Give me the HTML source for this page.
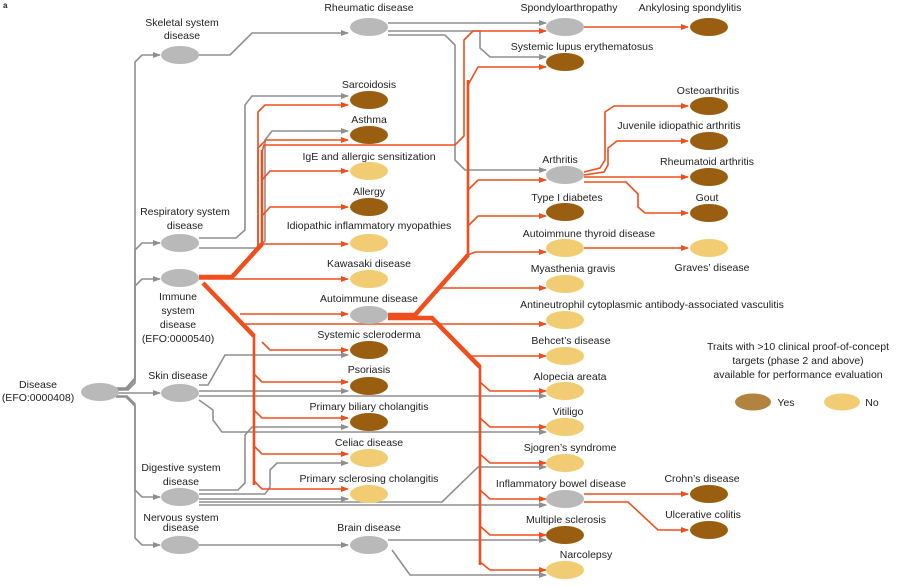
<!DOCTYPE html>
<html><head><meta charset="utf-8"><style>
html,body{margin:0;padding:0;background:#fff;}
svg{display:block;}
text{font-family:"Liberation Sans",sans-serif;font-size:10.5px;fill:#222;text-anchor:middle;}
.g{fill:none;stroke:#8f8f8f;stroke-width:1.6;}
.o{fill:none;stroke:#f04e1c;stroke-width:1.6;}
.ot{fill:none;stroke:#f04e1c;stroke-width:4.5;}
.om{fill:none;stroke:#f04e1c;stroke-width:2.6;}
.n{fill:#b9b9b9;}.b{fill:#9a5e10;}.y{fill:#f2cc72;}
</style></head><body>
<svg width="908" height="586" viewBox="0 0 908 586" xmlns="http://www.w3.org/2000/svg">
<defs>
<marker id="ag" markerWidth="8" markerHeight="6" refX="7" refY="3" orient="auto" markerUnits="userSpaceOnUse"><path d="M0,0 L8,3 L0,6 z" fill="#8f8f8f"/></marker>
<marker id="ao" markerWidth="8" markerHeight="6" refX="7" refY="3" orient="auto" markerUnits="userSpaceOnUse"><path d="M0,0 L8,3 L0,6 z" fill="#f04e1c"/></marker>
</defs>
<text x="3" y="8" style="font-size:8px;font-weight:bold;text-anchor:start">a</text>

<!-- grey edges -->
<g class="g" marker-end="url(#ag)">
<path d="M116,388 H126 L135,378 V62 L142,55 H160"/>
<path d="M116,389 H127 L135,380 V250 L142,243 H160"/>
<path d="M116,390 H128 L135,383 V286 L142,279 H160"/>
<path d="M118,393 H160"/>
<path d="M116,396 H127 L135,404 V490 L142,497 H160"/>
<path d="M116,397 H126 L135,406 V538 L142,545 H160"/>
<path d="M199,55 H230 L252,33 H348"/>
<path d="M388,23 H546"/>
<path d="M388,31 H480 V48 L490,57 H546"/>
<path d="M388,35 H445 L455,45 V160 L465,170 H546"/>
<path d="M199,238 H236 L245,230 V105 L252,96 H348"/>
<path d="M199,248 H258 L265,241 V140 L272,131 H348"/>
<path d="M199,385 H208 L225,355 H348"/>
<path d="M199,391 H348"/>
<path d="M199,396 H546"/>
<path d="M199,400 L213,410 V420 L222,432 H546"/>
<path d="M199,490 H238 L245,483 V435 L252,427 H348"/>
<path d="M199,494 H265 L270,487 V470 L277,463 H348"/>
<path d="M199,499 H348"/>
<path d="M199,502 H442 L478,467 H546"/>
<path d="M199,505 H546"/>
<path d="M199,545 H348"/>
<path d="M388,540 H546"/>
<path d="M392,550 L410,575 H546"/>
</g>

<!-- orange bundles -->
<path class="ot" d="M199,277 H232 L262,244"/>
<path class="om" d="M262,246 V150"/>
<path class="ot" d="M203,283 L254,336"/>
<path class="om" d="M254,334 V485"/>
<path class="ot" d="M388,315 H415 L468,255"/>
<path class="om" d="M468,257 V80"/>
<path class="ot" d="M388,318 H432 L480,367"/>
<path class="om" d="M480,365 V565"/>

<!-- orange thin edges -->
<g class="o" marker-end="url(#ao)">
<path d="M232,276 L258,246 V112 L265,105 H348"/>
<path d="M258,248 V148 L266,140 H348"/>
<path d="M262,152 L264,145 H455 L464,136 V40 L473,31 H546"/>
<path d="M262,180 L270,171 H348"/>
<path d="M262,216 L270,207 H348"/>
<path d="M262,244 H348"/>
<path d="M199,279 H348"/>
<path d="M240,314 H348"/>
<path d="M240,324 H546"/>
<path d="M262,342 L270,350 H348"/>
<path d="M254,374 L262,382 H348"/>
<path d="M254,410 L262,418 H348"/>
<path d="M254,446 L262,454 H348"/>
<path d="M254,481 L262,489 H348"/>
<path d="M468,85 L478,67 H546"/>
<path d="M468,190 L478,180 H546"/>
<path d="M468,226 L478,216 H546"/>
<path d="M468,255 L475,252 H546"/>
<path d="M440,288 H546"/>
<path d="M458,346 L468,356 H546"/>
<path d="M480,382 L490,391 H546"/>
<path d="M480,418 L490,427 H546"/>
<path d="M480,454 L490,463 H546"/>
<path d="M480,490 L490,499 H546"/>
<path d="M480,526 L490,535 H546"/>
<path d="M480,562 L490,570 H546"/>
<path d="M584,27 H688"/>
<path d="M584,172 L600,168 L605,160 V112 L614,106 H688"/>
<path d="M584,175 L604,172 L608,165 V148 L617,141 H688"/>
<path d="M584,177 H688"/>
<path d="M584,182 H626 L638,194 V207 L645,213 H688"/>
<path d="M584,248 H688"/>
<path d="M584,494 H688"/>
<path d="M584,502 H628 L658,530 H688"/>
</g>

<!-- nodes -->
<ellipse class="n" cx="100" cy="392" rx="19" ry="9"/>
<ellipse class="n" cx="180" cy="55" rx="19" ry="9"/>
<ellipse class="n" cx="180" cy="243" rx="19" ry="9"/>
<ellipse class="n" cx="180" cy="278" rx="19" ry="9"/>
<ellipse class="n" cx="180" cy="393" rx="19" ry="9"/>
<ellipse class="n" cx="180" cy="497" rx="19" ry="9"/>
<ellipse class="n" cx="180" cy="545" rx="19" ry="9"/>
<ellipse class="n" cx="369" cy="27" rx="19" ry="9"/>
<ellipse class="b" cx="369" cy="100" rx="19" ry="9"/>
<ellipse class="b" cx="369" cy="135" rx="19" ry="9"/>
<ellipse class="y" cx="369" cy="171" rx="19" ry="9"/>
<ellipse class="b" cx="369" cy="207" rx="19" ry="9"/>
<ellipse class="y" cx="369" cy="243" rx="19" ry="9"/>
<ellipse class="y" cx="369" cy="279" rx="19" ry="9"/>
<ellipse class="n" cx="369" cy="315" rx="19" ry="9"/>
<ellipse class="b" cx="369" cy="350" rx="19" ry="9"/>
<ellipse class="b" cx="369" cy="386" rx="19" ry="9"/>
<ellipse class="b" cx="369" cy="422" rx="19" ry="9"/>
<ellipse class="y" cx="369" cy="458" rx="19" ry="9"/>
<ellipse class="y" cx="369" cy="494" rx="19" ry="9"/>
<ellipse class="n" cx="369" cy="545" rx="19" ry="9"/>
<ellipse class="n" cx="565" cy="27" rx="19" ry="9"/>
<ellipse class="b" cx="565" cy="62" rx="19" ry="9"/>
<ellipse class="n" cx="565" cy="175" rx="19" ry="9"/>
<ellipse class="b" cx="565" cy="212" rx="19" ry="9"/>
<ellipse class="y" cx="565" cy="248" rx="19" ry="9"/>
<ellipse class="y" cx="565" cy="284" rx="19" ry="9"/>
<ellipse class="y" cx="565" cy="320" rx="19" ry="9"/>
<ellipse class="y" cx="565" cy="356" rx="19" ry="9"/>
<ellipse class="y" cx="565" cy="391" rx="19" ry="9"/>
<ellipse class="y" cx="565" cy="427" rx="19" ry="9"/>
<ellipse class="y" cx="565" cy="463" rx="19" ry="9"/>
<ellipse class="n" cx="565" cy="499" rx="19" ry="9"/>
<ellipse class="b" cx="565" cy="535" rx="19" ry="9"/>
<ellipse class="y" cx="565" cy="570" rx="19" ry="9"/>
<ellipse class="b" cx="709" cy="27" rx="19" ry="9"/>
<ellipse class="b" cx="709" cy="106" rx="19" ry="9"/>
<ellipse class="b" cx="709" cy="141" rx="19" ry="9"/>
<ellipse class="b" cx="709" cy="177" rx="19" ry="9"/>
<ellipse class="b" cx="709" cy="213" rx="19" ry="9"/>
<ellipse class="y" cx="709" cy="248" rx="19" ry="9"/>
<ellipse class="b" cx="709" cy="494" rx="19" ry="9"/>
<ellipse class="b" cx="709" cy="530" rx="19" ry="9"/>

<!-- labels -->
<text x="38" y="388">Disease</text><text x="38" y="401">(EFO:0000408)</text>
<text x="182" y="26">Skeletal system</text><text x="182" y="39">disease</text>
<text x="185" y="215">Respiratory system</text><text x="185" y="229">disease</text>
<text x="178" y="300">Immune</text><text x="178" y="314">system</text><text x="178" y="328">disease</text><text x="178" y="342">(EFO:0000540)</text>
<text x="178" y="379">Skin disease</text>
<text x="181" y="471">Digestive system</text><text x="181" y="485">disease</text>
<text x="181" y="521">Nervous system</text><text x="181" y="531">disease</text>
<text x="369" y="11">Rheumatic disease</text>
<text x="369" y="88">Sarcoidosis</text>
<text x="369" y="123">Asthma</text>
<text x="369" y="160">IgE and allergic sensitization</text>
<text x="369" y="195">Allergy</text>
<text x="369" y="229">Idiopathic inflammatory myopathies</text>
<text x="369" y="267">Kawasaki disease</text>
<text x="369" y="302">Autoimmune disease</text>
<text x="369" y="338">Systemic scleroderma</text>
<text x="369" y="373">Psoriasis</text>
<text x="369" y="410">Primary biliary cholangitis</text>
<text x="369" y="446">Celiac disease</text>
<text x="369" y="482">Primary sclerosing cholangitis</text>
<text x="369" y="531">Brain disease</text>
<text x="569" y="11">Spondyloarthropathy</text>
<text x="582" y="50">Systemic lupus erythematosus</text>
<text x="560" y="163">Arthritis</text>
<text x="567" y="201">Type I diabetes</text>
<text x="589" y="237">Autoimmune thyroid disease</text>
<text x="573" y="272">Myasthenia gravis</text>
<text x="652" y="308">Antineutrophil cytoplasmic antibody-associated vasculitis</text>
<text x="571" y="344">Behcet’s disease</text>
<text x="570" y="380">Alopecia areata</text>
<text x="568" y="415">Vitiligo</text>
<text x="570" y="451">Sjogren’s syndrome</text>
<text x="561" y="487">Inflammatory bowel disease</text>
<text x="566" y="523">Multiple sclerosis</text>
<text x="586" y="558">Narcolepsy</text>
<text x="690" y="11">Ankylosing spondylitis</text>
<text x="708" y="94">Osteoarthritis</text>
<text x="679" y="129">Juvenile idiopathic arthritis</text>
<text x="707" y="165">Rheumatoid arthritis</text>
<text x="707" y="201">Gout</text>
<text x="712" y="271">Graves’ disease</text>
<text x="702" y="482">Crohn’s disease</text>
<text x="703" y="518">Ulcerative colitis</text>

<!-- legend -->
<text x="798" y="350">Traits with &gt;10 clinical proof-of-concept</text>
<text x="798" y="364">targets (phase 2 and above)</text>
<text x="798" y="378">available for performance evaluation</text>
<ellipse cx="753" cy="402" rx="18" ry="8.5" fill="#b0843e"/>
<text x="786" y="406">Yes</text>
<ellipse cx="842" cy="402" rx="18" ry="8.5" fill="#f2cc72"/>
<text x="872" y="406">No</text>
</svg>
</body></html>
